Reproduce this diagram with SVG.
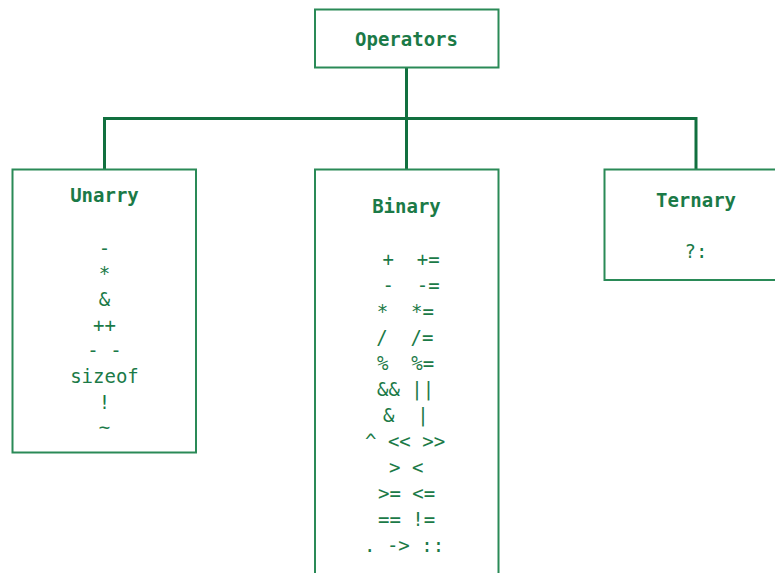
<svg xmlns="http://www.w3.org/2000/svg" width="775" height="573" viewBox="0 0 775 573">
<style>
.box{fill:#ffffff;stroke:#2a8a57;stroke-width:2}
.conn{fill:none;stroke:#11703f;stroke-width:3}
.t{font-family:"DejaVu Sans Mono","Liberation Mono",monospace;font-size:19px;fill:#1b7a47;white-space:pre}
.h{font-weight:bold;text-anchor:middle}
.c{text-anchor:middle}
</style>
<rect width="775" height="573" fill="#ffffff"/>
<g id="connectors">
<path class="conn" d="M406.5 67V118.5M104.5 169V118.5H696V169M406.5 118.5V169"/>
</g>
<g id="operators">
<rect class="box" x="315" y="9.5" width="183.5" height="58"/>
<text class="t h" x="406.5" y="46">Operators</text>
</g>
<g id="unarry">
<rect class="box" x="12.5" y="169.5" width="183.5" height="283"/>
<text class="t h" x="104.5" y="201.5">Unarry</text>
<g class="t c" xml:space="preserve">
<text class="t c" x="104.5" y="254.5">-</text>
<text class="t c" x="104.5" y="280">*</text>
<text class="t c" x="104.5" y="305.7">&amp;</text>
<text class="t c" x="104.5" y="331.5">++</text>
<text class="t c" x="104.5" y="357">- -</text>
<text class="t c" x="104.5" y="382.7">sizeof</text>
<text class="t c" x="104.5" y="408.5">!</text>
<text class="t c" x="104.5" y="434">~</text>
</g>
</g>
<g id="binary">
<rect class="box" x="315" y="169.5" width="183.5" height="410"/>
<text class="t h" x="406.5" y="213.3">Binary</text>
<g xml:space="preserve">
<text class="t" x="382.5" y="266">+  +=</text>
<text class="t" x="382.5" y="292">-  -=</text>
<text class="t" x="376.7" y="318">*  *=</text>
<text class="t" x="376.3" y="344">/  /=</text>
<text class="t" x="377" y="370">%  %=</text>
<text class="t" x="377" y="396">&amp;&amp; ||</text>
<text class="t" x="383" y="422">&amp;  |</text>
<text class="t" x="365" y="448">^ &lt;&lt; &gt;&gt;</text>
<text class="t" x="389" y="474">&gt; &lt;</text>
<text class="t" x="378" y="500">&gt;= &lt;=</text>
<text class="t" x="378" y="526">== !=</text>
<text class="t" x="364" y="552">. -&gt; ::</text>
</g>
</g>
<g id="ternary">
<rect class="box" x="604.5" y="169.5" width="180" height="110.5"/>
<text class="t h" x="696" y="206.7">Ternary</text>
<text class="t c" x="696" y="258.3">?:</text>
</g>
</svg>
